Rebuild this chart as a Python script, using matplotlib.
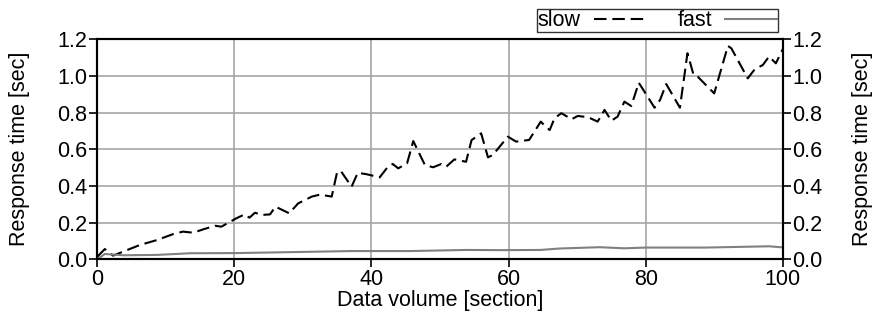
import matplotlib
matplotlib.use("Agg")
import matplotlib.pyplot as plt

plt.rcParams['font.family'] = ['Liberation Sans', 'DejaVu Sans']

# slow series: vertices
slow_x = [0, 1.1, 2.3, 6.2, 8.7, 11.1, 12.5, 14, 15.5, 17.2, 18.1, 20.3, 21.5, 22.2,
          23, 24, 25.2, 26, 28, 29.3, 31.3, 32.5, 34.2, 35, 35.6, 37.1, 38, 39.3,
          41.2, 42.4, 43.1, 43.9, 45.2, 46.1, 47.8, 49, 50.2, 50.9, 52.1, 53.8,
          54.6, 56, 57, 57.7, 59.9, 61.1, 63, 64.7, 65.5, 66, 66.7, 67.7, 69.2,
          70.1, 71.6, 73, 74, 75, 75.9, 76.9, 77.9, 79, 81.3, 82.1, 83, 85, 86.1,
          87, 87.6, 90, 92, 92.5, 94.9, 95.9, 97.1, 98, 99, 100]
slow_y = [0.014, 0.056, 0.02, 0.078, 0.105, 0.138, 0.151, 0.145, 0.164, 0.183, 0.178,
          0.224, 0.245, 0.227, 0.254, 0.242, 0.245, 0.287, 0.251, 0.305, 0.342,
          0.353, 0.342, 0.478, 0.478, 0.396, 0.472, 0.464, 0.447, 0.505, 0.52,
          0.496, 0.524, 0.645, 0.514, 0.502, 0.52, 0.505, 0.545, 0.532, 0.65,
          0.687, 0.556, 0.569, 0.669, 0.642, 0.651, 0.751, 0.72, 0.705, 0.769,
          0.797, 0.764, 0.782, 0.775, 0.751, 0.815, 0.756, 0.778, 0.86, 0.836,
          0.963, 0.827, 0.869, 0.956, 0.827, 1.124, 1.005, 0.996, 0.905, 1.164,
          1.151, 0.987, 1.036, 1.06, 1.106, 1.069, 1.146]

# fast series
fast_x = [0, 1.1, 3.8, 8.7, 13.5, 20.3, 32.5, 36.9, 45.6, 53.9, 58.8, 64.6, 67.5,
          73.3, 76.9, 80, 88.7, 98, 100]
fast_y = [0.0, 0.029, 0.022, 0.024, 0.033, 0.034, 0.042, 0.045, 0.045, 0.051,
          0.050, 0.051, 0.059, 0.066, 0.060, 0.064, 0.064, 0.071, 0.065]

yticks = [0.0, 0.2, 0.4, 0.6, 0.8, 1.0, 1.2]
xticks = [0, 20, 40, 60, 80, 100]
fs = 15.5

fig = plt.figure(figsize=(8.78, 3.17), dpi=100)
ax = fig.add_axes([0.1108, 0.182, 0.7807, 0.694])

ax.plot(slow_x, slow_y, color='black', lw=1.5, dashes=(6, 2.8), label='slow')
ax.plot(fast_x, fast_y, color='#808080', lw=1.5, label='fast')

ax.set_xlim(0, 100)
ax.set_ylim(0, 1.2)
ax.set_xticks(xticks)
ax.set_yticks(yticks)
ax.set_yticklabels(['%.1f' % v for v in yticks])
ax.grid(True, color='#a6a6a6', lw=1.2)
ax.set_axisbelow(True)
for s in ax.spines.values():
    s.set_linewidth(1.5)
ax.tick_params(direction='out', length=6, width=1.2, labelsize=fs, pad=1)
ax.set_xlabel('Data volume [section]', fontsize=fs, labelpad=0)
ax.set_ylabel('Response time [sec]', fontsize=fs, labelpad=20)

ax2 = ax.twinx()
ax2.set_ylim(0, 1.2)
ax2.set_yticks(yticks)
ax2.set_yticklabels(['%.1f' % v for v in yticks])
ax2.tick_params(direction='out', length=6, width=1.2, labelsize=fs, pad=1)
ax2.set_ylabel('Response time [sec]', fontsize=fs, rotation=90, labelpad=21)
for s in ax2.spines.values():
    s.set_linewidth(1.5)

leg = ax.legend(ncol=2, markerfirst=False, loc='upper right',
                bbox_to_anchor=(0.886, 0.971), bbox_transform=fig.transFigure,
                fontsize=fs, frameon=True, fancybox=False, handlelength=2.4,
                borderpad=0.05, columnspacing=1.5, handletextpad=0.6,
                borderaxespad=0)
leg.get_frame().set_edgecolor('black')
leg.get_frame().set_linewidth(1.0)

fig.savefig('out.png', dpi=100)
